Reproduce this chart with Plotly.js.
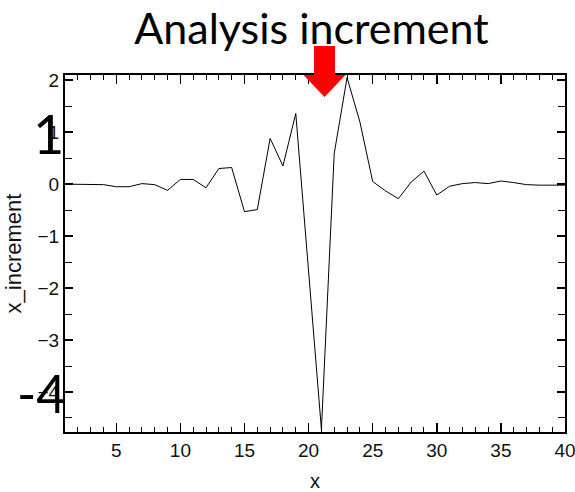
<!DOCTYPE html>
<html>
<head>
<meta charset="utf-8">
<script src="https://cdn.plot.ly/plotly-3.0.1.min.js"></script>
<style>html,body{margin:0;padding:0;background:#fff;}#chart{width:575px;height:492px;}</style>
</head>
<body>
<div id="chart"></div>
<script>
// Data
const xValues = [1,2,3,4,5,6,7,8,9,10,11,12,13,14,15,16,17,18,19,20,21,22,23,24,25,26,27,28,29,30,31,32,33,34,35,36,37,38,39,40];
const xIncrement = [0, 0, 0, -0.01, -0.05, -0.05, 0.01, -0.01, -0.12, 0.09,
                    0.09, -0.07, 0.30, 0.32, -0.53, -0.49, 0.88, 0.35, 1.36, -1.68,
                    -4.72, 0.59, 2.05, 1.2, 0.05, -0.13, -0.28, 0.04, 0.25, -0.21,
                    -0.04, 0.01, 0.03, 0.01, 0.06, 0.03, -0.01, -0.02, -0.02, -0.02];
const xTickVals = [5, 10, 15, 20, 25, 30, 35, 40];
const titleText = "Analysis increment";
const overlayLabels = ["1", "-4"];

// Layout geometry (pixels)
const W = 575, H = 492;
const M = {l: 65, r: 10, t: 75, b: 60};
const PW = W - M.l - M.r, PH = H - M.t - M.b;
const px = x => (x - M.l) / PW;
const py = y => (H - M.b - y) / PH;

// red arrow outline in pixel coords
const arrowPts = [[314,46],[335,46],[335,75],[345.5,75],[324.5,97],[303.5,75],[314,75]];
const arrowPath = 'M ' + arrowPts.map(p => px(p[0]).toFixed(4) + ',' + py(p[1]).toFixed(4)).join(' L ') + ' Z';

const tickFont = {family: '"Liberation Sans Narrow", "Liberation Sans", Arial, sans-serif', size: 19, color: '#111'};

const trace = {
  x: xValues, y: xIncrement, type: 'scatter', mode: 'lines',
  line: {color: '#000', width: 1}, hoverinfo: 'skip'
};

const layout = {
  width: W, height: H,
  margin: M,
  paper_bgcolor: '#fff', plot_bgcolor: '#fff',
  showlegend: false,
  title: {
    text: titleText,
    font: {family: 'Lato, "Open Sans", sans-serif', size: 43, color: '#000'},
    x: 311.5 / W, xanchor: 'center', xref: 'container',
    y: 1 - 29 / H, yanchor: 'middle', yref: 'container'
  },
  xaxis: {
    range: [1, 40.0001],
    tickmode: 'array', tickvals: xTickVals,
    showgrid: false, zeroline: false,
    showline: true, linecolor: '#000', linewidth: 2, mirror: 'allticks',
    ticks: 'inside', ticklen: 9, tickwidth: 1.5, tickcolor: '#000',
    minor: {dtick: 1, tick0: 0, ticks: 'inside', ticklen: 5, tickwidth: 1, tickcolor: '#000', showgrid: false},
    tickfont: tickFont,
    ticklabeloverflow: 'allow',
    title: {text: 'x', font: {family: 'Liberation Sans, Arial, sans-serif', size: 20, color: '#111'}, standoff: 14}
  },
  yaxis: {
    range: [-4.77, 2.1], dtick: 1, tick0: 0,
    showgrid: false, zeroline: false,
    showline: true, linecolor: '#000', linewidth: 2, mirror: 'allticks',
    ticks: 'inside', ticklen: 8, tickwidth: 1.5, tickcolor: '#000',
    minor: {dtick: 0.5, ticks: 'inside', ticklen: 7, tickwidth: 1, tickcolor: '#000', showgrid: false},
    tickfont: tickFont,
    title: {text: 'x_increment', font: {family: 'Liberation Sans, Arial, sans-serif', size: 22, color: '#111'}, standoff: 10}
  },
  shapes: [{
    type: 'path', xref: 'paper', yref: 'paper', path: arrowPath,
    fillcolor: '#ff0000', line: {width: 0}, layer: 'above'
  }],
  annotations: [
    {text: overlayLabels[0], xref: 'paper', yref: 'paper', x: px(48.5), y: py(133),
     xanchor: 'center', yanchor: 'middle', showarrow: false,
     font: {family: 'Lato, sans-serif', size: 54, color: '#000'}},
    {text: overlayLabels[1], xref: 'paper', yref: 'paper', x: px(41.5), y: py(393),
     xanchor: 'center', yanchor: 'middle', showarrow: false,
     font: {family: 'Lato, sans-serif', size: 52, color: '#000'}}
  ]
};

Plotly.newPlot('chart', [trace], layout, {staticPlot: true, displayModeBar: false});
</script>
</body>
</html>
